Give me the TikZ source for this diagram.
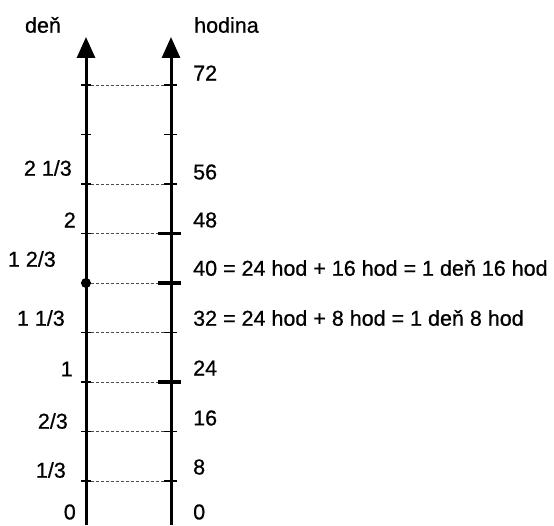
\documentclass[tikz,border=0pt]{standalone}
\usepackage{fontspec}
\setmainfont{Liberation Sans}[FakeBold=0.7]
\usetikzlibrary{arrows.meta}

\begin{document}
\begin{tikzpicture}[x=1pt,y=1pt,
  axis/.style={line width=3pt,-{Triangle[width=18pt,length=21pt]}},
  rung/.style={black!70,line width=0.9pt,densely dashed},
  tickmark/.style={line width=1.3pt},
  heavytick/.style={line width=3.6pt},
  lbl/.style={font=\fontsize{21.5}{25}\selectfont,inner sep=0pt}]
\useasboundingbox (0,0) rectangle (554,525);
\draw[axis] (86,0) -- (86,488);
\draw[axis] (171,0) -- (171,488);
\node[lbl] (den) at (43,500) {deň};
\node[lbl,anchor=west] (hodina) at (194,500) {hodina};
\foreach \h in {8,16,24,32,40,48,56,72}{
  \draw[rung] (86,{6.1875*\h-5.5}) -- (171,{6.1875*\h-5.5});
}
\foreach \h in {8,16,...,72}{
  \draw[tickmark] (81,{6.1875*\h-5.5}) -- (91,{6.1875*\h-5.5});
  \draw[tickmark] (164,{6.1875*\h-5.5}) -- (177,{6.1875*\h-5.5});
}
\foreach \h in {24,40,48}{
  \draw[heavytick] (158,{6.1875*\h-5.5}) -- (181,{6.1875*\h-5.5});
}
\fill (86,{6.1875*40-5.5}) circle (5pt);
% hodiny
\foreach \n/\y/\t in {72/452/72,56/353/56,48/305/48,
    40/257/{40 = 24 hod + 16 hod = 1 deň 16 hod},
    32/207/{32 = 24 hod + 8 hod = 1 deň 8 hod},
    24/157/24,16/107/16,8/58/8,0/13/0}{
  \node[lbl,anchor=west] (h\n) at (193,\y) {\t};
}
% dni
\foreach \n/\x/\y/\t in {a/72/357/{2 1/3},b/76/305/2,c/56/266/{1 2/3},
    d/65/207/{1 1/3},e/73/156/1,f/68/104/{2/3},g/66/55/{1/3},h/76/13/0}{
  \node[lbl,anchor=east] (d\n) at (\x,\y) {\t};
}
\end{tikzpicture}
\end{document}
